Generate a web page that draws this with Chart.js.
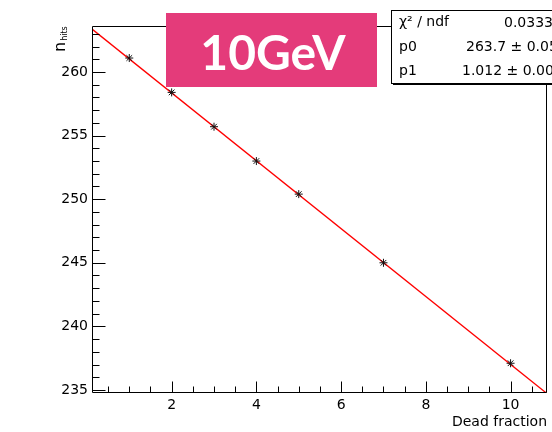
<!DOCTYPE html>
<html>
<head>
<meta charset="utf-8">
<script src="https://cdn.jsdelivr.net/npm/chart.js@4"></script>
<style>
  html, body { margin: 0; padding: 0; background: #fff; }
  canvas { display: block; }
</style>
</head>
<body>
<canvas id="c" width="552" height="432"></canvas>
<script>
// Measured hits versus dead-channel fraction
const deadFraction = [1, 2, 3, 4, 5, 7, 10];
const nHits = [261.1, 258.4, 255.7, 253.0, 250.4, 245.0, 237.1];

// Axis ticks and ranges
const xTickValues = [2, 4, 6, 8, 10];
const yTickValues = [235, 240, 245, 250, 255, 260];
const xRange = [0.12, 10.86];
const yRange = [234.76, 263.62];

// Fit result: n = p0 * (1 - p1 * f / 100)
const fitP0 = 263.7, fitP0Err = 0.05;
const fitP1 = 1.012, fitP1Err = 0.006;
const chi2PerNdf = 0.0333;

const energyLabel = '10GeV';
const xTitle = 'Dead fraction';

const fitX = xRange.slice();
const fitY = fitX.map(f => fitP0 * (1 - fitP1 * f / 100));

const FONT = 'DejaVu Sans';

// Frame, inward ticks, axis titles, stats box and energy tag
const decor = {
  id: 'decor',
  afterDatasetsDraw(chart) {
    const { ctx, chartArea: a, scales: { x, y } } = chart;
    const L = Math.round(a.left) + 0.5, R = Math.round(a.right) - 0.5;
    const T = Math.round(a.top) + 0.5, B = Math.round(a.bottom) - 0.5;
    ctx.save();
    ctx.strokeStyle = '#000';
    ctx.lineWidth = 1;

    // frame
    ctx.beginPath();
    ctx.moveTo(L, T); ctx.lineTo(R, T); ctx.lineTo(R, B); ctx.lineTo(L, B); ctx.closePath();
    ctx.stroke();

    // y ticks (major every 5, minor every 1)
    ctx.beginPath();
    for (let v = Math.ceil(y.min); v <= y.max; v++) {
      const py = Math.round(y.getPixelForValue(v)) + 0.5;
      const len = (v % 5 === 0) ? 13 : 7;
      ctx.moveTo(L, py); ctx.lineTo(L + len, py);
    }
    // x ticks (major every 2, minor every 0.5)
    for (let k = Math.ceil(x.min * 2); k <= x.max * 2; k++) {
      const v = k / 2;
      const px = Math.round(x.getPixelForValue(v)) + 0.5;
      const len = (k % 4 === 0) ? 11 : 6;
      ctx.moveTo(px, B); ctx.lineTo(px, B - len);
    }
    ctx.stroke();

    // x title
    ctx.fillStyle = '#000';
    ctx.font = '14px "' + FONT + '"';
    ctx.textAlign = 'right';
    ctx.textBaseline = 'alphabetic';
    ctx.fillText(xTitle, a.right, 426);

    // y title n_hits, rotated
    ctx.save();
    ctx.translate(65, 52);
    ctx.rotate(-Math.PI / 2);
    ctx.textAlign = 'left';
    ctx.font = '16px "' + FONT + '"';
    ctx.fillText('n', 0, 0);
    const nw = ctx.measureText('n').width;
    ctx.font = '8px "' + FONT + '"';
    ctx.fillText('hits', nw + 1, 2);
    ctx.restore();

    // stats box
    ctx.fillStyle = '#000';
    ctx.fillRect(393, 83, 200, 2);
    ctx.fillStyle = '#fff';
    ctx.fillRect(391, 10, 200, 73);
    ctx.strokeRect(391.5, 10.5, 200, 73);
    ctx.fillStyle = '#000';
    ctx.font = '14px "' + FONT + '"';
    ctx.textAlign = 'left';
    ctx.fillText('\u03C7\u00B2 / ndf', 399, 26);
    ctx.fillText('p0', 399, 51);
    ctx.fillText('p1', 399, 75);
    ctx.textAlign = 'right';
    ctx.fillText(chi2PerNdf.toFixed(4), 553, 27);
    ctx.textAlign = 'left';
    ctx.fillText(fitP0.toFixed(1) + ' \u00B1 ' + fitP0Err.toFixed(2), 466, 51);
    ctx.fillText(fitP1.toFixed(3) + ' \u00B1 ' + fitP1Err.toFixed(3), 462, 75);

    // energy tag
    ctx.fillStyle = '#e43b7a';
    ctx.fillRect(166, 13, 211, 74);
    ctx.fillStyle = '#fff';
    ctx.font = 'bold 48px Lato';
    ctx.textAlign = 'center';
    ctx.fillText(energyLabel, 273, 70);

    ctx.restore();
  }
};

new Chart(document.getElementById('c'), {
  type: 'scatter',
  data: {
    datasets: [
      {
        data: deadFraction.map((f, i) => ({ x: f, y: nHits[i] })),
        pointStyle: 'star',
        pointRadius: 4,
        borderColor: '#111',
        backgroundColor: '#111',
        borderWidth: 1,
        showLine: false
      },
      {
        data: fitX.map((f, i) => ({ x: f, y: fitY[i] })),
        showLine: true,
        pointRadius: 0,
        borderColor: '#ff0000',
        borderWidth: 1.4,
        fill: false,
        tension: 0
      }
    ]
  },
  options: {
    responsive: false,
    animation: false,
    devicePixelRatio: 1,
    layout: { padding: { top: 26, right: 2, left: 0, bottom: 0 } },
    plugins: { legend: { display: false }, tooltip: { enabled: false } },
    scales: {
      x: {
        type: 'linear',
        min: xRange[0], max: xRange[1],
        grid: { display: false, drawTicks: false },
        border: { display: false },
        afterBuildTicks: s => { s.ticks = xTickValues.map(v => ({ value: v })); },
        afterFit: s => { s.height = 39; },
        ticks: { padding: 4, color: '#000', maxRotation: 0, font: { family: FONT, size: 14 } }
      },
      y: {
        type: 'linear',
        min: yRange[0], max: yRange[1],
        grid: { display: false, drawTicks: false },
        border: { display: false },
        afterBuildTicks: s => { s.ticks = yTickValues.map(v => ({ value: v })); },
        afterFit: s => { s.width = 92; },
        ticks: { padding: 4, color: '#000', font: { family: FONT, size: 14 } }
      }
    }
  },
  plugins: [decor]
});
</script>
</body>
</html>
